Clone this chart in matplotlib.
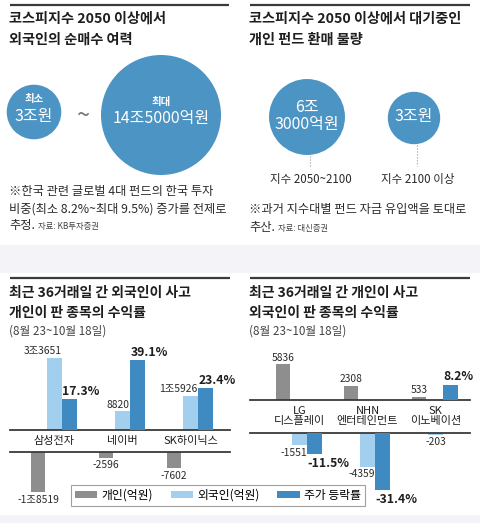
import matplotlib
matplotlib.use('Agg')
import matplotlib.pyplot as plt
import matplotlib.transforms as mtransforms
from matplotlib.patches import Circle, Rectangle

plt.rcParams['font.family'] = ['Noto Sans CJK KR', 'DejaVu Sans']

# data

# top-left: foreign net-buying capacity (조원)
capacity_tags = ['최소', '최대']
capacity_values = [3.0, 14.5]
capacity_text = ['3조원', '14조5000억원']

# top-right: individual fund redemption waiting (조원)
redeem_ranges = ['지수 2050~2100', '지수 2100 이상']
redeem_values = [6.3, 3.0]
redeem_text = ['6조\n3000억원', '3조원']

# bottom-left: foreigners bought, individuals sold (억원, %)
left_stocks = ['삼성전자', '네이버', 'SK하이닉스']
left_indiv = [-18519, -2596, -7602]
left_foreign = [33651, 8820, 15926]
left_return = [17.3, 39.1, 23.4]

# bottom-right: individuals bought, foreigners sold (억원, %)
right_stocks = ['LG\n디스플레이', 'NHN\n엔터테인먼트', 'SK\n이노베이션']
right_indiv = [5836, 2308, 533]
right_foreign = [-1551, -4359, -203]
right_return = [-11.5, -31.4, 8.2]

legend_labels = ['개인(억원)', '외국인(억원)', '주가 등락률']

# colours
C_GRAY = '#8e8e8e'
C_LIGHT = '#a3cfef'
C_BLUE = '#3f8bc1'
C_CIRCLE = '#4b94c4'
C_LINE = '#3a3a3a'
C_BAND = '#f3f3f8'
C_TEXT = '#1e1e1e'

W, H = 480, 523
fig = plt.figure(figsize=(W / 100, H / 100), dpi=100)

# page axes in pixel units (y grows downwards)
ax0 = fig.add_axes([0, 0, 1, 1])
ax0.set_xlim(0, W)
ax0.set_ylim(H, 0)
ax0.axis('off')


def px_axes(x0, y0, x1, y1):
    ax = fig.add_axes([x0 / W, 1 - y1 / H, (x1 - x0) / W, (y1 - y0) / H])
    ax.patch.set_visible(False)
    return ax


def fmt_eok(v):
    sign = '-' if v < 0 else ''
    a = abs(v)
    if a >= 10000:
        return '%s%d조%d' % (sign, a // 10000, a % 10000)
    return '%s%d' % (sign, a)


# background bands and panel rules
ax0.add_patch(Rectangle((0, 245), W, 28, color=C_BAND, lw=0))
ax0.add_patch(Rectangle((0, 515), W, 8, color=C_BAND, lw=0))
for x0, x1, y in [(10, 229, 5), (250, 470, 5), (10, 230, 278), (250, 470, 278)]:
    ax0.plot([x0, x1], [y, y], color=C_LINE, lw=1.6, solid_capstyle='butt')

title_kw = dict(fontsize=10.2, fontweight='bold', color=C_TEXT, va='center', ha='left')
ax0.text(9, 19, '코스피지수 2050 이상에서', **title_kw)
ax0.text(9, 40, '외국인의 순매수 여력', **title_kw)
ax0.text(249, 19, '코스피지수 2050 이상에서 대기중인', **title_kw)
ax0.text(249, 40, '개인 펀드 환매 물량', **title_kw)
title_kw['fontsize'] = 10
ax0.text(9, 293, '최근 36거래일 간 외국인이 사고', **title_kw)
ax0.text(9, 313, '개인이 판 종목의 수익률', **title_kw)
ax0.text(249, 293, '최근 36거래일 간 개인이 사고', **title_kw)
ax0.text(249, 313, '외국인이 판 종목의 수익률', **title_kw)

sub_kw = dict(fontsize=8.4, color='#444444', va='center', ha='left')
ax0.text(9, 331, '(8월 23~10월 18일)', **sub_kw)
ax0.text(249, 331, '(8월 23~10월 18일)', **sub_kw)

# top-left circles: area proportional to the amount
k = 60 / capacity_values[1] ** 0.5
cap_cx = [34, 161]
cap_cy = [112, 115]
for tag, v, txt, cx, cy in zip(capacity_tags, capacity_values, capacity_text, cap_cx, cap_cy):
    ax0.add_patch(Circle((cx, cy), k * v ** 0.5, color=C_CIRCLE, lw=0))
    ax0.text(cx, cy - 13, tag, fontsize=7.5, fontweight='bold', color='white', ha='center', va='center')
    ax0.text(cx, cy + 4, txt, fontsize=11.5, color='white', ha='center', va='center')
ax0.text(83, 116, '~', fontsize=17, color='#777777', ha='center', va='center')

note_kw = dict(fontsize=8.8, color='#2a2a2a', va='center', ha='left')
ax0.text(9, 192, '※한국 관련 글로벌 4대 펀드의 한국 투자', **note_kw)
ax0.text(9, 209, '비중(최소 8.2%~최대 9.5%) 증가를 전제로', **note_kw)
ax0.text(9, 226, '추정.', **note_kw)
ax0.text(38, 227, '자료: KB투자증권', fontsize=6, color='#444444', va='center', ha='left')

# top-right circles
red_cx = [307, 414]
red_cy = [117, 118]
for rng, v, txt, cx, cy in zip(redeem_ranges, redeem_values, redeem_text, red_cx, red_cy):
    r = k * v ** 0.5 * 0.96
    ax0.add_patch(Circle((cx, cy), r, color=C_CIRCLE, lw=0))
    ax0.text(cx, cy - 1, txt, fontsize=11.5, color='white', ha='center', va='center', linespacing=0.95)
    ax0.plot([cx + 3, cx + 3], [cy + r + 1, 166], color='#9a9a9a', lw=0.8, ls=':')
    ax0.text(cx + 4, 179, rng, fontsize=8.3, color='#2a2a2a', ha='center', va='center')

ax0.text(249, 210, '※과거 지수대별 펀드 자금 유입액을 토대로', **note_kw)
ax0.text(249, 227, '추산.', **note_kw)
ax0.text(278, 228, '자료: 대신증권', fontsize=6, color='#444444', va='center', ha='left')


# bar charts
def draw_chart(x0, x1, center0, base_top, base_bot, up_px, dn_px,
               up_scale, dn_scale, up_pscale, dn_pscale, label_y,
               stocks, indiv, foreign, ret):
    step = 68.0
    lo = (x0 - center0) / step
    hi = (x1 - center0) / step
    up = px_axes(x0, base_top - up_px, x1, base_top)
    dn = px_axes(x0, base_bot, x1, base_bot + dn_px)
    upp = up.twinx()
    dnp = dn.twinx()
    up.set_ylim(0, up_px * up_scale)
    upp.set_ylim(0, up_px * up_pscale)
    dn.set_ylim(-dn_px * dn_scale, 0)
    dnp.set_ylim(-dn_px * dn_pscale, 0)
    for a in (up, dn, upp, dnp):
        a.set_xlim(lo, hi)
        a.set_xticks([])
        a.set_yticks([])
        a.patch.set_visible(False)
        for s in a.spines.values():
            s.set_visible(False)
    up.spines['bottom'].set_visible(True)
    dn.spines['top'].set_visible(True)
    for sp in (up.spines['bottom'], dn.spines['top']):
        sp.set_color(C_LINE)
        sp.set_linewidth(1.3)

    w = 0.215
    xs = list(range(len(stocks)))
    xg = [x - 0.243 for x in xs]
    xl = list(xs)
    xb = [x + 0.222 for x in xs]
    handles = []
    for a, ap in ((up, upp), (dn, dnp)):
        hg = a.bar(xg, indiv, w, color=C_GRAY, lw=0)
        hl = a.bar(xl, foreign, w, color=C_LIGHT, lw=0)
        hb = ap.bar(xb, ret, w, color=C_BLUE, lw=0)
        handles = [hg, hl, hb]

    num_kw = dict(fontsize=7.4, color='#2a2a2a', textcoords='offset points', annotation_clip=False)
    pct_kw = dict(fontsize=8.8, fontweight='bold', color=C_TEXT,
                  textcoords='offset points', annotation_clip=False)
    for i in xs:
        # money bars
        for xv, v, same_side in ((xg[i], indiv[i], False),
                                 (xl[i], foreign[i], foreign[i] * ret[i] > 0)):
            a = up if v > 0 else dn
            if same_side:
                xy, ha = (xv + w / 2, v), 'right'
            else:
                xy, ha = (xv, v), 'center'
            if v > 0:
                a.annotate(fmt_eok(v), xy, xytext=(0, 1), ha=ha, va='bottom', **num_kw)
            else:
                a.annotate(fmt_eok(v), xy, xytext=(0, -2), ha=ha, va='top', **num_kw)
        # return bars
        r = ret[i]
        if r > 0:
            upp.annotate('%.1f%%' % r, (xb[i] - w / 2, r), xytext=(0, 1), ha='left', va='bottom', **pct_kw)
        else:
            dnp.annotate('%.1f%%' % r, (xb[i] - w / 2, r), xytext=(0, -2), ha='left', va='top', **pct_kw)

    trans = mtransforms.blended_transform_factory(up.transData, ax0.transData)
    for i, s in enumerate(stocks):
        ax0.text(xl[i], label_y, s, transform=trans, fontsize=8, color=C_TEXT,
                 ha='center', va='center', linespacing=1.05)
    return handles


handles = draw_chart(10, 230, 54.5, 430, 452, 90, 60, 465, 465, 0.56, 0.56, 441,
                     left_stocks, left_indiv, left_foreign, left_return)
draw_chart(250, 470, 299.5, 400, 433, 60, 77, 162, 130, 0.53, 0.55, 416,
           right_stocks, right_indiv, right_foreign, right_return)

leg = fig.legend(handles, legend_labels, loc='center', bbox_to_anchor=(218 / W, 1 - 495.5 / H),
                 ncol=3, frameon=True, fancybox=False, edgecolor='#8a8a8a', fontsize=8.5,
                 handlelength=1.9, handleheight=0.55, columnspacing=1.5, handletextpad=0.35,
                 borderpad=0.3)
leg.get_frame().set_linewidth(0.8)

fig.savefig('out.png', dpi=100)
